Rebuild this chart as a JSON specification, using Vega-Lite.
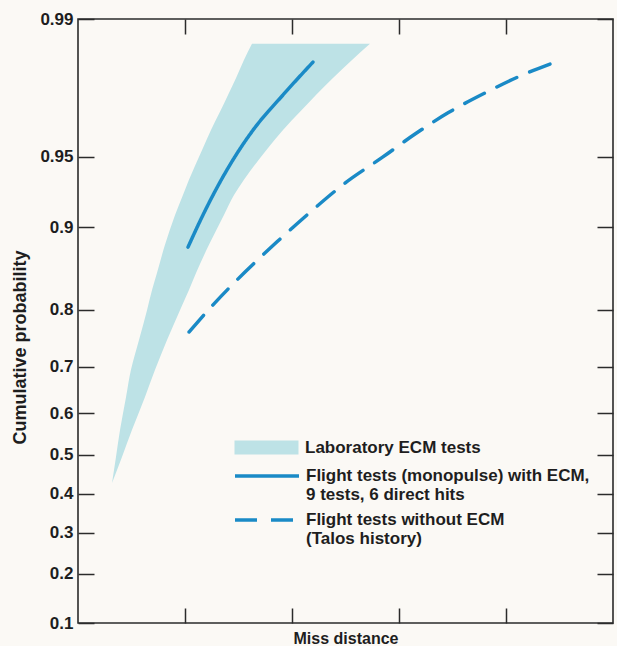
{
  "$schema": "https://vega.github.io/schema/vega-lite/v6.json",
  "width": 535,
  "height": 604,
  "autosize": {"type": "none"},
  "padding": {"left": 78, "top": 19, "right": 4, "bottom": 23},
  "background": "#fbf9f5",
  "config": {
    "view": {"stroke": "#2b2b2b", "strokeWidth": 1.6},
    "font": "Liberation Sans",
    "axis": {
      "domain": false,
      "grid": false,
      "tickColor": "#2b2b2b",
      "tickWidth": 1.5,
      "tickSize": -16,
      "labelFont": "Liberation Sans",
      "labelFontWeight": "bold",
      "labelFontSize": 17,
      "labelColor": "#1e1e1e",
      "titleFont": "Liberation Sans",
      "titleFontWeight": "bold",
      "titleFontSize": 16,
      "titleColor": "#1e1e1e"
    },
    "legend": {
      "title": null,
      "orient": "none",
      "padding": 0,
      "symbolSize": 196,
      "symbolOffset": 24,
      "labelOffset": 30,
      "rowPadding": 8,
      "labelFont": "Liberation Sans",
      "labelFontSize": 17,
      "labelFontWeight": "bold",
      "labelColor": "#1e1e1e",
      "labelLimit": 400
    }
  },
  "datasets": {
    "band": [
      {"t": 0.747, "xl": 0.318, "xr": 0.318},
      {"t": 0.825, "xl": 0.355, "xr": 0.411},
      {"t": 0.907, "xl": 0.393, "xr": 0.505},
      {"t": 1.006, "xl": 0.449, "xr": 0.626},
      {"t": 1.088, "xl": 0.495, "xr": 0.720},
      {"t": 1.178, "xl": 0.570, "xr": 0.832},
      {"t": 1.268, "xl": 0.645, "xr": 0.953},
      {"t": 1.329, "xl": 0.692, "xr": 1.037},
      {"t": 1.380, "xl": 0.738, "xr": 1.103},
      {"t": 1.465, "xl": 0.813, "xr": 1.224},
      {"t": 1.555, "xl": 0.907, "xr": 1.364},
      {"t": 1.615, "xl": 0.981, "xr": 1.458},
      {"t": 1.661, "xl": 1.037, "xr": 1.551},
      {"t": 1.757, "xl": 1.168, "xr": 1.776},
      {"t": 1.811, "xl": 1.243, "xr": 1.916},
      {"t": 1.866, "xl": 1.327, "xr": 2.075},
      {"t": 1.917, "xl": 1.402, "xr": 2.224},
      {"t": 1.968, "xl": 1.477, "xr": 2.383},
      {"t": 2.022, "xl": 1.551, "xr": 2.561},
      {"t": 2.071, "xl": 1.626, "xr": 2.729}
    ],
    "withecm": [
      {"miss": 1.028, "t": 1.458},
      {"miss": 1.168, "t": 1.555},
      {"miss": 1.327, "t": 1.654},
      {"miss": 1.477, "t": 1.736},
      {"miss": 1.636, "t": 1.811},
      {"miss": 1.916, "t": 1.917},
      {"miss": 2.196, "t": 2.016}
    ],
    "noecm": [
      {"miss": 1.037, "t": 1.202},
      {"miss": 1.262, "t": 1.284},
      {"miss": 1.561, "t": 1.383},
      {"miss": 1.860, "t": 1.474},
      {"miss": 2.140, "t": 1.555},
      {"miss": 2.495, "t": 1.651},
      {"miss": 2.850, "t": 1.730},
      {"miss": 3.150, "t": 1.799},
      {"miss": 3.458, "t": 1.863},
      {"miss": 3.804, "t": 1.923},
      {"miss": 4.131, "t": 1.974},
      {"miss": 4.411, "t": 2.010}
    ]
  },
  "layer": [
    {
      "data": {"name": "band"},
      "mark": {"type": "area", "orient": "horizontal", "opacity": 1, "interpolate": "monotone"},
      "encoding": {
        "y": {
          "field": "t", "type": "quantitative",
          "scale": {"domain": [0.324593, 2.145966], "nice": false, "zero": false},
          "axis": {
            "orient": "left",
            "values": [0.324593, 0.472381, 0.597223, 0.714721, 0.832555, 0.957231, 1.097257, 1.268636, 1.517427, 1.730818, 2.145966],
            "labelExpr": "format(1 - exp(-datum.value * datum.value), '.2~f')",
            "labelPadding": 21,
            "title": "Cumulative probability",
            "titleFontSize": 18,
            "titleAngle": -90,
            "titleAlign": "center",
            "titleBaseline": "middle",
            "titleX": -58,
            "titleY": 328
          }
        },
        "x": {
          "field": "xl", "type": "quantitative",
          "scale": {"domain": [0, 5], "nice": false, "zero": false},
          "axis": {
            "orient": "bottom",
            "values": [1, 2, 3, 4],
            "tickSize": -15,
            "labels": false,
            "title": "Miss distance",
            "titlePadding": 7
          }
        },
        "x2": {"field": "xr"},
        "fill": {
          "datum": "Laboratory ECM tests",
          "type": "nominal",
          "scale": {"domain": ["Laboratory ECM tests"], "range": ["#bde2e6"]},
          "legend": {
            "orient": "none",
            "legendX": 156,
            "legendY": 420,
            "symbolType": "M-4.571,-1H4.571V1H-4.571Z",
            "symbolStrokeWidth": 0
          }
        }
      }
    },
    {
      "data": {"name": "withecm"},
      "mark": {"type": "line", "strokeWidth": 3.5, "interpolate": "monotone", "strokeCap": "round"},
      "encoding": {
        "x": {
          "field": "miss", "type": "quantitative",
          "axis": {"orient": "top", "values": [1, 2, 3, 4], "tickSize": -15, "labels": false, "title": null}
        },
        "y": {
          "field": "t", "type": "quantitative",
          "axis": {
            "orient": "right",
            "values": [0.324593, 0.472381, 0.597223, 0.714721, 0.832555, 0.957231, 1.097257, 1.268636, 1.517427, 1.730818, 2.145966],
            "labels": false,
            "title": null
          }
        },
        "stroke": {
          "datum": "Flight tests (monopulse) with ECM,|9 tests, 6 direct hits",
          "type": "nominal",
          "scale": {
            "domain": ["Flight tests (monopulse) with ECM,|9 tests, 6 direct hits", "Flight tests without ECM|(Talos history)"],
            "range": ["#1a8ac6", "#1a8ac6"]
          },
          "legend": {
            "orient": "none",
            "legendX": 156,
            "legendY": 448,
            "symbolType": "M-4.571,0H4.571",
            "symbolStrokeWidth": 3.5,
            "labelExpr": "split(datum.label, '|')"
          }
        },
        "strokeDash": {
          "datum": "Flight tests (monopulse) with ECM,|9 tests, 6 direct hits",
          "type": "nominal",
          "scale": {
            "domain": ["Flight tests (monopulse) with ECM,|9 tests, 6 direct hits", "Flight tests without ECM|(Talos history)"],
            "range": [[1, 0], [22, 14]]
          },
          "legend": {
            "orient": "none",
            "legendX": 156,
            "legendY": 448,
            "symbolType": "M-4.571,0H4.571",
            "symbolStrokeWidth": 3.5,
            "labelExpr": "split(datum.label, '|')"
          }
        }
      }
    },
    {
      "data": {"name": "noecm"},
      "mark": {"type": "line", "strokeWidth": 3.5, "interpolate": "monotone", "strokeCap": "round"},
      "encoding": {
        "x": {"field": "miss", "type": "quantitative", "axis": null},
        "y": {"field": "t", "type": "quantitative", "axis": null},
        "stroke": {"datum": "Flight tests without ECM|(Talos history)", "type": "nominal"},
        "strokeDash": {"datum": "Flight tests without ECM|(Talos history)", "type": "nominal"}
      }
    }
  ],
  "resolve": {"axis": {"x": "independent", "y": "independent"}}
}
